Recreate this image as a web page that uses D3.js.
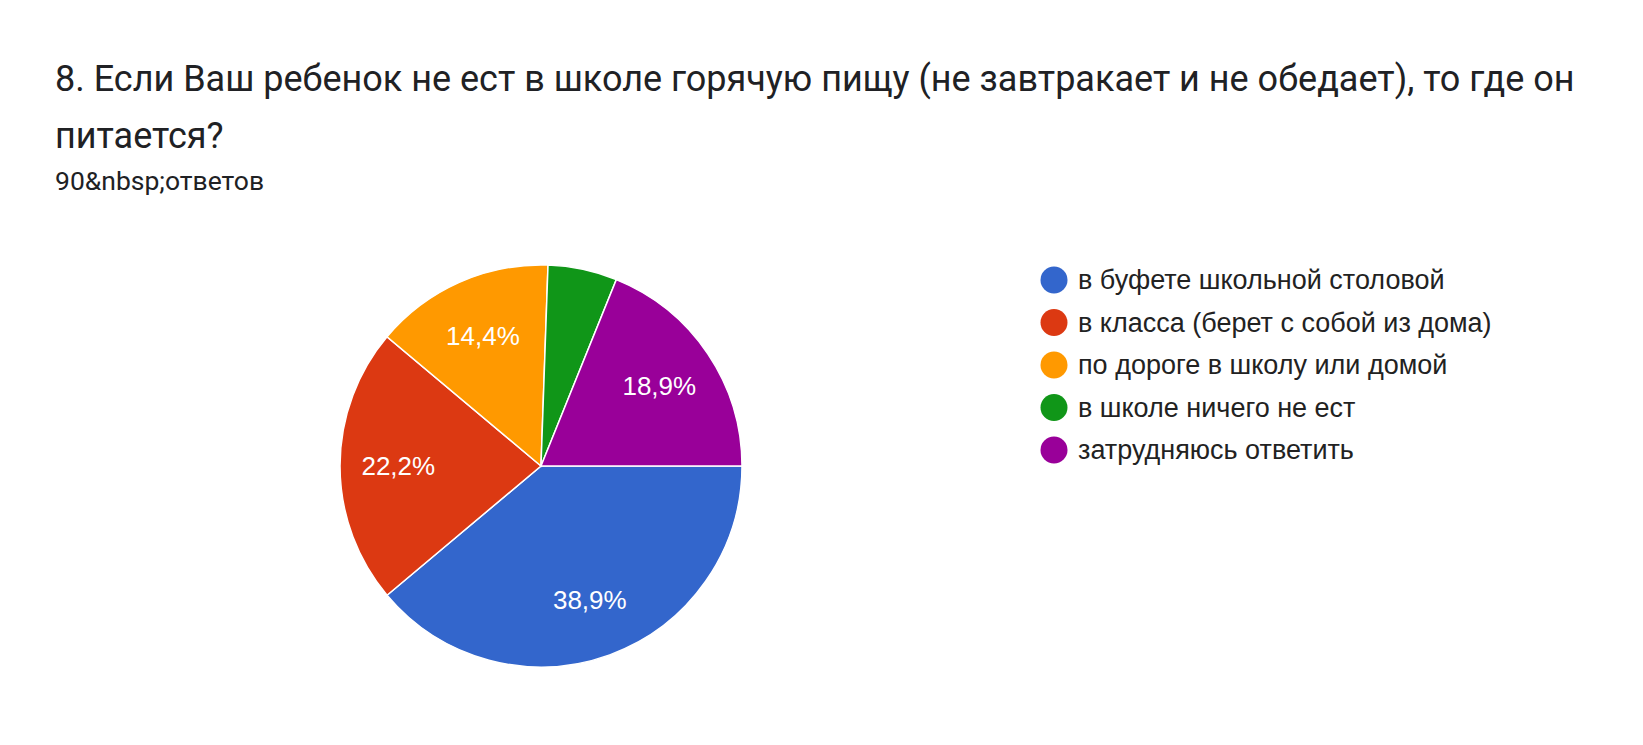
<!DOCTYPE html>
<html>
<head>
<meta charset="utf-8">
<script src="https://cdn.jsdelivr.net/npm/d3@7"></script>
<style>
  body { margin: 0; background: #fff; }
  svg { font-family: Roboto, "Noto Sans", sans-serif; }
</style>
</head>
<body>
<div id="chart"></div>
<script>
// data (90 answers)
const titleLines = ["8. Если Ваш ребенок не ест в школе горячую пищу (не завтракает и не обедает), то где он", "питается?"];
const subtitle = "90&nbsp;ответов";
const categories = ["в буфете школьной столовой", "в класса (берет с собой из дома)", "по дороге в школу или домой", "в школе ничего не ест", "затрудняюсь ответить"];
const counts = [35, 20, 13, 5, 17];
const colors = ["#3366cc", "#dc3912", "#ff9900", "#109618", "#990099"];

const W = 1643, H = 745;
const chartFont = "Arial, 'Liberation Sans', sans-serif";

const svg = d3.select("#chart").append("svg")
    .attr("width", W)
    .attr("height", H);

// title + subtitle
svg.append("g").selectAll("text")
    .data(titleLines)
    .enter()
    .append("text")
    .attr("x", 55)
    .attr("y", (d, i) => 91 + i * 57)
    .attr("fill", "#202124")
    .style("font-size", "36px")
    .text(d => d);

svg.append("text")
    .attr("x", 55)
    .attr("y", 190)
    .attr("fill", "#202124")
    .style("font-size", "26.5px")
    .text(subtitle);

// pie
const cx = 541, cy = 466, r = 201;
const total = d3.sum(counts);
const pie = d3.pie().sort(null).startAngle(Math.PI / 2).endAngle(Math.PI / 2 + 2 * Math.PI);
const arcs = pie(counts);
const arc = d3.arc().innerRadius(0).outerRadius(r);
const labelArc = d3.arc().innerRadius(r * 0.71).outerRadius(r * 0.71);

const g = svg.append("g").attr("transform", `translate(${cx},${cy})`);

g.selectAll("path")
    .data(arcs)
    .enter()
    .append("path")
    .attr("d", arc)
    .attr("fill", (d, i) => colors[i])
    .attr("stroke", "#fff")
    .attr("stroke-width", 1.5);

const fmt = v => (v * 100).toFixed(1).replace(".", ",") + "%";

// Google hides labels on thin slices
g.selectAll("text")
    .data(arcs.filter(d => d.value / total > 0.07))
    .enter()
    .append("text")
    .attr("transform", d => `translate(${labelArc.centroid(d)})`)
    .attr("text-anchor", "middle")
    .attr("dy", "0.35em")
    .attr("fill", "#fff")
    .style("font-family", chartFont)
    .style("font-size", "26px")
    .text(d => fmt(d.value / total));

// legend
const legend = svg.append("g").attr("transform", "translate(1054,280)");
const rows = legend.selectAll("g")
    .data(categories)
    .enter()
    .append("g")
    .attr("transform", (d, i) => `translate(0,${i * 42.5})`);

rows.append("circle")
    .attr("r", 13.5)
    .attr("fill", (d, i) => colors[i]);

rows.append("text")
    .attr("x", 24)
    .attr("dy", "0.35em")
    .attr("fill", "#222")
    .style("font-family", chartFont)
    .style("font-size", "27px")
    .text(d => d);
</script>
</body>
</html>
